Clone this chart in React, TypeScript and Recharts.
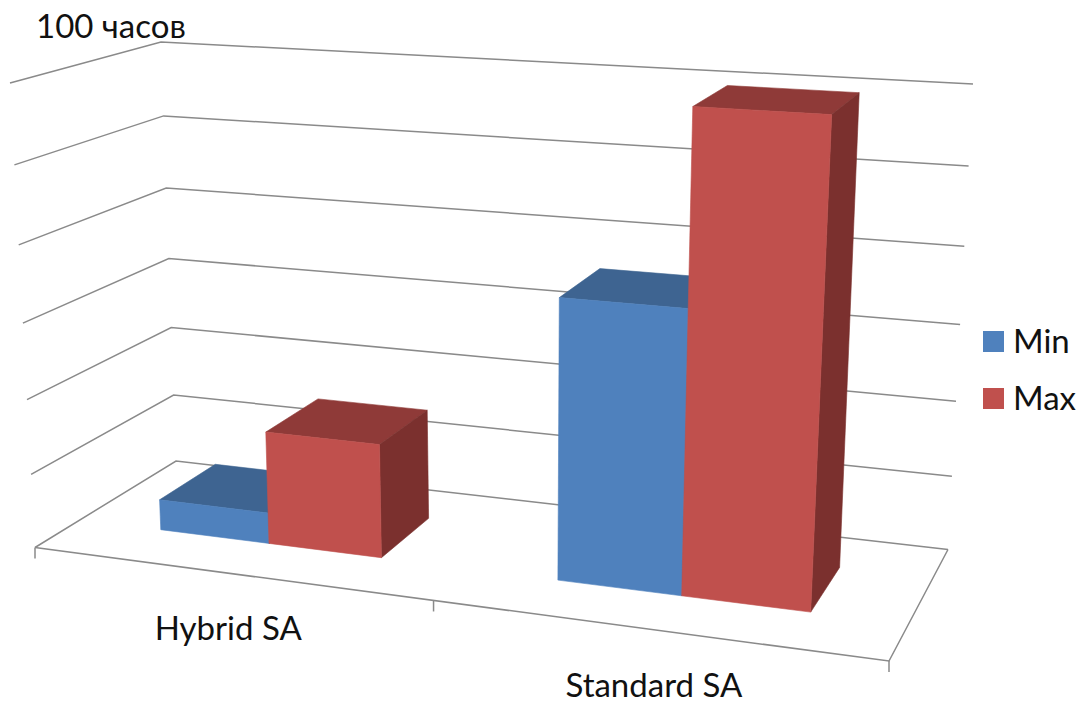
import React from 'react';
import { BarChart, Bar, XAxis, YAxis, CartesianGrid, Legend, Label } from 'recharts';

// Hours are shown in units of 100
const categories = ['Hybrid SA', 'Standard SA'];
const minValues = [0.42, 3.62];
const maxValues = [1.52, 6];
const yTicks = [0, 1, 2, 3, 4, 5, 6];
const unitLabel = '100 часов';

const chartData = categories.map((name, i) => ({ name, Min: minValues[i], Max: maxValues[i] }));

const FONT = 'Lato, "Open Sans", sans-serif';
const ORIGIN_X = 1;
const PLOT_W = 1000;
const PLOT_H = 600;
const GRID = '#8A8A8A';

type Pt = [number, number];

// Maps the unit square onto a quadrilateral (front-left, front-right, back-right, back-left)
function quadMap([p0, p1, p2, p3]: Pt[]) {
  const dx1 = p1[0] - p2[0];
  const dx2 = p3[0] - p2[0];
  const sx = p0[0] - p1[0] + p2[0] - p3[0];
  const dy1 = p1[1] - p2[1];
  const dy2 = p3[1] - p2[1];
  const sy = p0[1] - p1[1] + p2[1] - p3[1];
  const det = dx1 * dy2 - dx2 * dy1;
  const g = (sx * dy2 - dx2 * sy) / det;
  const h = (dx1 * sy - sx * dy1) / det;
  const a = p1[0] - p0[0] + g * p1[0];
  const b = p3[0] - p0[0] + h * p3[0];
  const d = p1[1] - p0[1] + g * p1[1];
  const e = p3[1] - p0[1] + h * p3[1];
  return (u: number, v: number): Pt => {
    const w = g * u + h * v + 1;
    return [(a * u + b * v + p0[0]) / w, (d * u + e * v + p0[1]) / w];
  };
}

// The floor and the ceiling of the 3D box the chart stands in
const floorMap = quadMap([[35, 547.5], [889, 661], [948, 549.5], [176, 461]]);
const ceilingMap = quadMap([[10, 83], [920, 139], [973, 84], [161, 42]]);

// u runs along the category axis, v goes into the depth, h is the value fraction
function project(u: number, v: number, h: number): Pt {
  const lo = floorMap(u, v);
  const hi = ceilingMap(u, v);
  const t = h / (1 + 0.07 * (1 - h));
  return [lo[0] + (hi[0] - lo[0]) * t, lo[1] + (hi[1] - lo[1]) * t];
}

const toPath = (pts: Pt[]) => pts.map((p) => `${p[0].toFixed(1)},${p[1].toFixed(1)}`).join(' ');

const BAR_FRONT = 0.3;
const BAR_BACK = 0.715;

// Draws one Recharts bar rectangle as a box with front, top and side faces
function Box3D(props: any) {
  const { x, y, width, height, fill, topFill, sideFill } = props;
  const u0 = (x - ORIGIN_X) / PLOT_W;
  const u1 = (x - ORIGIN_X + width) / PLOT_W;
  const hTop = (PLOT_H - y) / PLOT_H;
  const hBase = (PLOT_H - y - height) / PLOT_H;
  const f = BAR_FRONT;
  const b = BAR_BACK;
  return (
    <g strokeWidth={0.6} strokeLinejoin="round">
      <polygon points={toPath([project(u0, f, hTop), project(u1, f, hTop), project(u1, b, hTop), project(u0, b, hTop)])} fill={topFill} stroke={topFill} />
      <polygon points={toPath([project(u1, f, hBase), project(u1, f, hTop), project(u1, b, hTop), project(u1, b, hBase)])} fill={sideFill} stroke={sideFill} />
      <polygon points={toPath([project(u0, f, hBase), project(u1, f, hBase), project(u1, f, hTop), project(u0, f, hTop)])} fill={fill} stroke={fill} />
    </g>
  );
}

// One grid level: runs along the left wall, then along the back wall
function WallLine(props: any) {
  const h = (PLOT_H - props.y1) / PLOT_H;
  const line = toPath([project(0, 0, h), project(0, 1, h), project(1, 1, h)]);
  return (
    <g key={props.key}>
      <polyline points={line} fill="none" stroke={GRID} strokeWidth={1.5} />
      {h === 0 && (
        <polyline points={toPath([project(0, 0, 0), project(1, 0, 0), project(1, 1, 0)])} fill="none" stroke={GRID} strokeWidth={1.5} />
      )}
    </g>
  );
}

// Label under the floor plus the tick marks on the front edge
function CategoryTick(props: any) {
  const { x, payload, index } = props;
  const uc = (x - ORIGIN_X) / PLOT_W;
  const center = project(uc, 0, 0);
  const edges = index === 0 ? [0, uc + 0.25] : [1];
  return (
    <g>
      {edges.map((u) => {
        const p = project(u, 0, 0);
        return <line key={u} x1={p[0]} y1={p[1]} x2={p[0]} y2={p[1] + 11} stroke={GRID} strokeWidth={1.5} />;
      })}
      <text x={center[0]} y={center[1] + 67} textAnchor="middle" fontFamily={FONT} fontSize={33} fill="#111">
        {payload.value}
      </text>
    </g>
  );
}

const NoTick = () => <g />;

function LegendList({ payload }: any) {
  return (
    <div style={{ fontFamily: FONT, fontSize: 33, color: '#111' }}>
      {(payload || []).map((item: any) => (
        <div key={item.value} style={{ display: 'flex', alignItems: 'center', height: 57 }}>
          <span style={{ width: 21, height: 21, background: item.color, marginRight: 9 }} />
          <span style={{ position: 'relative', top: -2 }}>{item.value}</span>
        </div>
      ))}
    </div>
  );
}

export default function App() {
  return (
    <div style={{ position: 'absolute', left: 0, top: 0, width: 1080, height: 704, background: '#fff' }}>
      <BarChart
        width={1080}
        height={704}
        data={chartData}
        margin={{ top: 0, right: 77, bottom: 103, left: 2 }}
        barCategoryGap="21.5%"
        barGap={0}
      >
        <CartesianGrid vertical={false} horizontal={WallLine} />
        <XAxis dataKey="name" height={1} axisLine={false} tickLine={false} interval={0} tick={CategoryTick} />
        <YAxis width={1} domain={[0, 6]} ticks={yTicks} axisLine={false} tickLine={false} tick={NoTick}>
          <Label
            content={() => (
              <text x={36} y={38} fontFamily={FONT} fontSize={33} fill="#111">
                {unitLabel}
              </text>
            )}
          />
        </YAxis>
        <Legend
          layout="vertical"
          align="center"
          verticalAlign="middle"
          itemSorter={null}
          wrapperStyle={{ left: 983, top: 313, width: 97 }}
          content={LegendList}
        />
        <Bar
          dataKey="Min"
          fill="#4F81BD"
          isAnimationActive={false}
          shape={(p: any) => <Box3D {...p} topFill="#3E6491" sideFill="#345478" />}
        />
        <Bar
          dataKey="Max"
          fill="#C0504D"
          isAnimationActive={false}
          shape={(p: any) => <Box3D {...p} topFill="#8F3A38" sideFill="#7B302E" />}
        />
      </BarChart>
    </div>
  );
}
